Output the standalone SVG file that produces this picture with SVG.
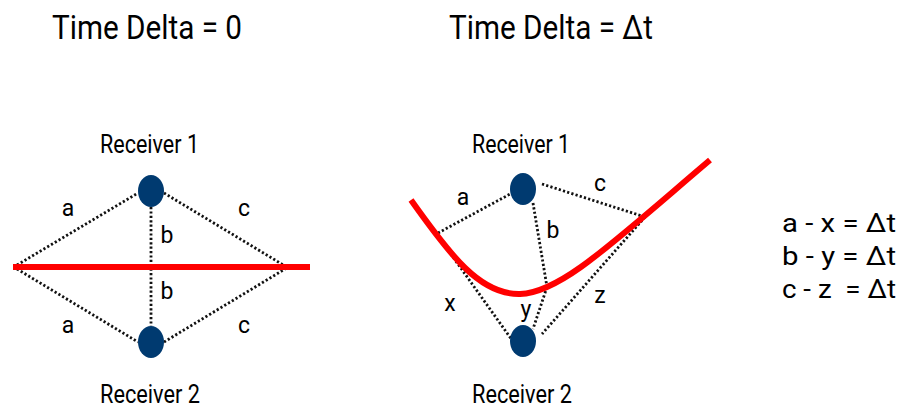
<svg xmlns="http://www.w3.org/2000/svg" width="901" height="409" viewBox="0 0 901 409">
<style>
text{font-family:Roboto,"Liberation Sans",sans-serif;fill:#000;}
.t{font-size:34px;}
.r{font-size:25px;}
.l{font-size:23px;text-anchor:middle;}
.e{font-size:26px;}
.dot{stroke:#111;stroke-width:2.8;stroke-dasharray:2.2 2.2;fill:none;}
.red{stroke:#ff0000;stroke-width:6;fill:none;}
.node{fill:#003a70;}
</style>
<rect width="901" height="409" fill="#fff"/>
<g id="titles">
<text class="t" x="52" y="39" textLength="190" lengthAdjust="spacingAndGlyphs">Time Delta = 0</text>
<text class="t" x="449" y="39" textLength="204" lengthAdjust="spacingAndGlyphs">Time Delta = Δt</text>
</g>
<g id="connectors">
<line class="dot" x1="17" y1="265" x2="138" y2="193"/>
<line class="dot" x1="164" y1="193" x2="285" y2="266"/>
<line class="dot" x1="151" y1="207" x2="151" y2="326"/>
<line class="dot" x1="17" y1="269" x2="138" y2="342"/>
<line class="dot" x1="164" y1="342" x2="285" y2="269"/>
<line class="dot" x1="438" y1="233" x2="512" y2="193"/>
<line class="dot" x1="542" y1="184" x2="645" y2="217"/>
<line class="dot" x1="533" y1="203" x2="547" y2="287"/>
<line class="dot" x1="547" y1="287" x2="533" y2="329"/>
<line class="dot" x1="438" y1="236" x2="512" y2="340"/>
<line class="dot" x1="645" y1="217" x2="542" y2="334"/>
</g>
<g id="wave-left"><line class="red" x1="13" y1="267" x2="310" y2="267"/></g>
<g id="wave-right"><path class="red" d="M411,200 C450,255 480,295 520,294 C560,293 610,245 710,160"/></g>
<g id="left-receiver1">
<ellipse class="node" cx="151" cy="191" rx="13" ry="16"/>
<text class="r" x="100" y="153" textLength="99" lengthAdjust="spacingAndGlyphs">Receiver 1</text>
</g>
<g id="left-receiver2">
<ellipse class="node" cx="151" cy="342" rx="13" ry="16"/>
<text class="r" x="100" y="403" textLength="100" lengthAdjust="spacingAndGlyphs">Receiver 2</text>
</g>
<g id="right-receiver1">
<ellipse class="node" cx="523" cy="189" rx="13" ry="16"/>
<text class="r" x="472" y="153" textLength="98" lengthAdjust="spacingAndGlyphs">Receiver 1</text>
</g>
<g id="right-receiver2">
<ellipse class="node" cx="523" cy="341" rx="13" ry="16"/>
<text class="r" x="472" y="403" textLength="100" lengthAdjust="spacingAndGlyphs">Receiver 2</text>
</g>
<g id="labels">
<text class="l" x="68" y="216">a</text>
<text class="l" x="244" y="216">c</text>
<text class="l" x="167" y="243">b</text>
<text class="l" x="167" y="299">b</text>
<text class="l" x="68" y="333">a</text>
<text class="l" x="244" y="333">c</text>
<text class="l" x="463" y="205">a</text>
<text class="l" x="600" y="191">c</text>
<text class="l" x="553" y="238">b</text>
<text class="l" x="450" y="311">x</text>
<text class="l" x="526" y="317">y</text>
<text class="l" x="600" y="303">z</text>
</g>
<g id="equations">
<text class="e" x="782" y="232" textLength="114" lengthAdjust="spacingAndGlyphs">a - x = Δt</text>
<text class="e" x="782" y="265" textLength="114" lengthAdjust="spacingAndGlyphs">b - y = Δt</text>
<text class="e" x="782" y="298" textLength="114" lengthAdjust="spacingAndGlyphs" xml:space="preserve">c - z  = Δt</text>
</g>
</svg>
